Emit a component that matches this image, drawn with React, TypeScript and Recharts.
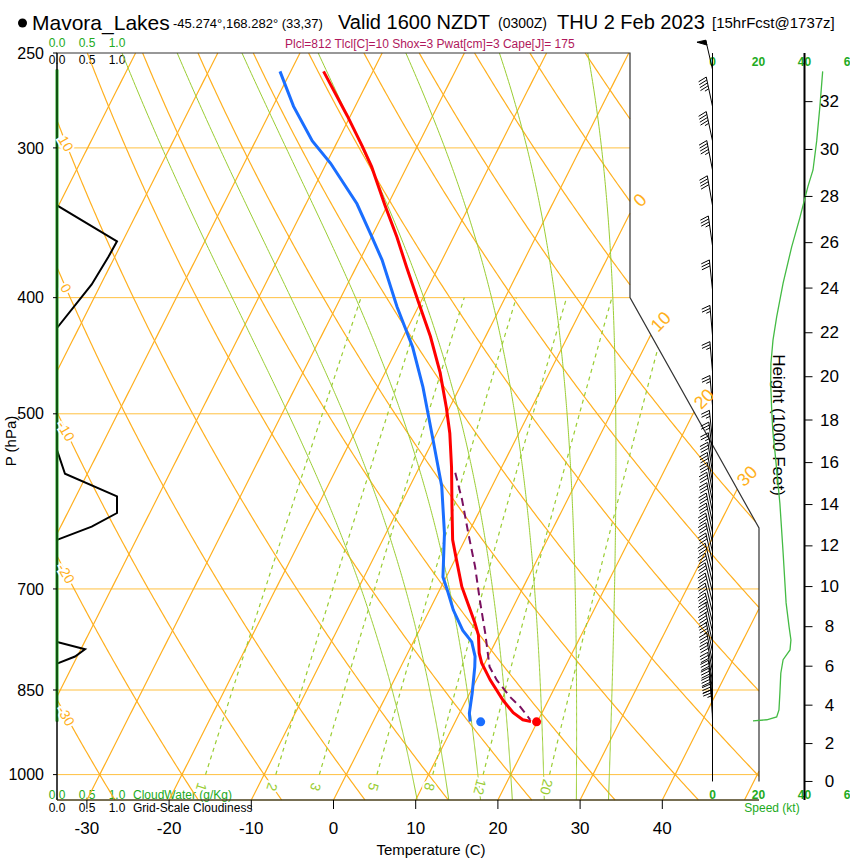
import React from 'react';
import { ComposedChart, Line, XAxis, YAxis, Scatter, ReferenceLine } from 'recharts';

const FONT = '"Liberation Sans", Arial, Helvetica, sans-serif';
const ORANGE = '#FFB020';
const PLEVEL = '#FFC040';
const YGREEN = '#9ACD32';
const GREEN = '#22AA22';
const CRIMSON = '#B0185C';

// ===== Sounding data =====
const tempP = [259, 282, 299, 311, 335, 356, 377, 404, 431, 462, 494, 519, 554, 598, 637, 662, 697, 715, 747, 765, 792, 807, 834, 867, 888, 900, 903];
const tempT = [-46.0, -40.4, -36.7, -34.3, -30.3, -26.9, -23.9, -20.2, -16.7, -13.3, -10.4, -8.4, -6.1, -3.6, -1.5, 0.2, 2.5, 3.9, 6.3, 7.5, 8.7, 9.6, 11.7, 14.5, 16.5, 18.1, 19.2];
const dewP = [259, 277, 296, 309, 334, 355, 372, 407, 440, 475, 526, 575, 629, 684, 701, 729, 758, 775, 797, 813, 855, 889, 903];
const dewT = [-51.3, -47.5, -43.1, -39.5, -33.8, -30.1, -27.3, -22.6, -18.2, -14.5, -10.0, -6.1, -2.9, -0.4, 0.9, 2.9, 5.3, 7.1, 8.4, 9.0, 10.3, 11.2, 11.8];
const parcelP = [560, 590, 629, 671, 715, 762, 813, 834, 861, 878, 900];
const parcelT = [-5.3, -2.8, 0.0, 2.9, 5.5, 8.2, 10.8, 12.5, 15.1, 17.0, 19.0];
const surfaceP = [903.6];
const surfaceT = [19.9];
const surfaceTd = [13.1];

const cloudP = [258, 335, 359, 370, 390, 424, 536, 561, 586, 605, 621, 637, 775, 786, 797, 808, 903];
const cloudFrac = [0, 0, 1.0, 0.855, 0.578, 0, 0, 0.133, 1.0, 1.0, 0.578, 0, 0, 0.467, 0.3, 0, 0];
const cloudWaterP = [258, 903];
const cloudWaterQ = [0, 0];

const speedP = [259, 277, 296, 313, 323, 343, 363, 389, 415, 434, 454, 471, 494, 516, 539, 594, 653, 719, 753, 772, 787, 802, 823, 855, 883, 895, 900, 902];
const speedKt = [47.9, 46.7, 45.3, 43.7, 41.5, 38.0, 34.4, 30.7, 27.9, 26.3, 25.4, 25.3, 25.7, 26.2, 27.2, 29.3, 30.7, 32.0, 33.3, 34.1, 33.7, 30.7, 29.7, 29.3, 28.9, 27.9, 23.6, 17.6];

const windP = [258, 277, 296, 313, 335, 362, 394, 430, 461, 492, 526, 538, 549, 559, 570, 581, 592, 604, 616, 628, 640, 652, 665, 678, 691, 704, 718, 732, 746, 760, 775, 790, 806, 821, 837, 850, 863, 877, 890, 900];
const windSpd = [48, 47, 45, 44, 40, 35, 31, 27, 25, 26, 26, 27, 27, 28, 28, 29, 29, 30, 30, 30, 31, 31, 31, 31, 32, 32, 32, 32, 33, 33, 34, 34, 31, 30, 29, 29, 29, 29, 28, 24];
const windDir = [347, 348, 348, 349, 350, 352, 354, 355, 355, 355, 354, 353, 352, 351, 350, 350, 349, 349, 348, 348, 347, 347, 347, 346, 346, 346, 346, 346, 346, 347, 347, 348, 349, 350, 351, 352, 353, 354, 356, 358];

// ===== Diagram furniture =====
const pressureTicks = [250, 300, 400, 500, 700, 850, 1000];
const pressureLines = [300, 400, 500, 700, 850, 1000];
const tempTicks = [-30, -20, -10, 0, 10, 20, 30, 40];
const isotherms = [-70, -60, -50, -40, -30, -20, -10, 0, 10, 20, 30, 40, 50];
const isothermLabels = [0, 10, 20, 30];
const dryAdiabats = [-30, -20, -10, 0, 10, 20, 30, 40, 50, 60, 70, 80, 90, 100, 110, 120, 130, 140, 150, 160];
const dryAdiabatLabels = [-30, -20, -10, 0, 10];
const moistAdiabats = [8, 12, 16, 20, 24, 28, 32];
const mixingRatios = [1, 2, 3, 5, 8, 12, 20];
const heightTicks = [0, 2, 4, 6, 8, 10, 12, 14, 16, 18, 20, 22, 24, 26, 28, 30, 32];
const speedTicks = [0, 20, 40, 60];
const speedTickText = ['0', '20', '40', '6'];
const cloudTicks = ['0.0', '0.5', '1.0'];
const cloudTickVals = [0, 0.5, 1.0];

// ===== Geometry of the skew-T =====
const SKEW = 32;
const P_REF = 1050;
const P_TOP = 250;
const PLOT_L = 57, PLOT_R = 848, PLOT_T = 53, PLOT_B = 800;
const X0_PX = 333.5, PX_PER_DEG = 8.22;
const X_MIN = (PLOT_L - X0_PX) / PX_PER_DEG;
const X_MAX = (PLOT_R - X0_PX) / PX_PER_DEG;
const SPD0_PX = 712.5, PX_PER_KT = 2.3;
const S_MIN = (PLOT_L - SPD0_PX) / PX_PER_KT;
const S_MAX = (PLOT_R - SPD0_PX) / PX_PER_KT;
const PX_PER_CLOUD = 60;
const C_MAX = (PLOT_R - PLOT_L) / PX_PER_CLOUD;
const XR1 = (630 - X0_PX) / PX_PER_DEG;
const XR2 = (759 - X0_PX) / PX_PER_DEG;
const P_CORNER = 400, P_DIAG = 622.6, P_SEA = 1013.25;
const LN_TOP = Math.log(P_TOP), LN_BOT = Math.log(P_REF);
const LN_PX = (PLOT_B - PLOT_T) / (LN_BOT - LN_TOP);
const LN_TO_X = LN_PX / PX_PER_DEG;

type Pt = { x: number; p: number };
const skewX = (t: number, p: number) => t + SKEW * Math.log(P_REF / p);

function xMaxAt(p: number) {
  if (p <= P_CORNER) return XR1;
  if (p >= P_DIAG) return XR2;
  const t = (Math.log(p) - Math.log(P_CORNER)) / (Math.log(P_DIAG) - Math.log(P_CORNER));
  return XR1 + (XR2 - XR1) * t;
}
function gIn(pt: Pt) {
  const lp = Math.log(pt.p);
  return Math.min(pt.x - X_MIN, xMaxAt(pt.p) - pt.x, (lp - LN_TOP) * LN_TO_X, (LN_BOT - lp) * LN_TO_X);
}
function lerpPt(a: Pt, b: Pt, t: number): Pt {
  const la = Math.log(a.p), lb = Math.log(b.p);
  return { x: a.x + (b.x - a.x) * t, p: Math.exp(la + (lb - la) * t) };
}
function clip(pts: Pt[]): Pt[][] {
  const segs: Pt[][] = [];
  let cur: Pt[] | null = null;
  for (let i = 0; i < pts.length; i++) {
    const a = pts[i];
    const ga = gIn(a);
    if (ga >= 0) {
      if (!cur) {
        cur = [];
        if (i > 0) {
          const b = pts[i - 1];
          const gb = gIn(b);
          cur.push(lerpPt(b, a, gb / (gb - ga)));
        }
      }
      cur.push(a);
    } else if (cur) {
      const b = pts[i - 1];
      const gb = gIn(b);
      cur.push(lerpPt(b, a, gb / (gb - ga)));
      if (cur.length > 1) segs.push(cur);
      cur = null;
    }
  }
  if (cur && cur.length > 1) segs.push(cur);
  return segs;
}
function samplePressures(p1: number, p2: number, n: number) {
  const out: number[] = [];
  for (let i = 0; i <= n; i++) out.push(Math.exp(Math.log(p1) + (Math.log(p2) - Math.log(p1)) * (i / n)));
  return out;
}
function solveP(f: (p: number) => number, lo: number, hi: number) {
  let a = Math.log(lo), b = Math.log(hi);
  const fa = f(lo);
  for (let i = 0; i < 60; i++) {
    const m = (a + b) / 2;
    const fm = f(Math.exp(m));
    if ((fm > 0) === (fa > 0)) a = m; else b = m;
  }
  return Math.exp((a + b) / 2);
}

// thermodynamics for reference lines
const KAPPA = 0.2857;
const RD = 287.04, CPD = 1005.7, LV = 2.501e6, EPS = 0.622;
const satVap = (tc: number) => 6.112 * Math.exp((17.67 * tc) / (tc + 243.5));
const dryT = (thetaC: number, p: number) => (thetaC + 273.15) * Math.pow(p / 1000, KAPPA) - 273.15;
const dryX = (thetaC: number, p: number) => skewX(dryT(thetaC, p), p);
function mixTd(w: number, p: number) {
  const e = (w * p) / (622 + w);
  const l = Math.log(e / 6.112);
  return (243.5 * l) / (17.67 - l);
}
const mixX = (w: number, p: number) => skewX(mixTd(w, p), p);
function moistDTdP(p: number, tk: number) {
  const es = satVap(tk - 273.15);
  const rs = (EPS * es) / (p - es);
  return (RD * tk + LV * rs) / (p * (CPD + (LV * LV * rs * EPS) / (RD * tk * tk)));
}
function moistCurve(thetaW: number): Pt[] {
  const step = 2;
  const integrate = (dir: number, pEnd: number) => {
    const out: { p: number; t: number }[] = [];
    let t = thetaW + 273.15;
    let p = 1000;
    while ((dir < 0 && p > pEnd) || (dir > 0 && p < pEnd)) {
      const h = dir * step;
      const k1 = moistDTdP(p, t);
      const k2 = moistDTdP(p + h / 2, t + (h / 2) * k1);
      const k3 = moistDTdP(p + h / 2, t + (h / 2) * k2);
      const k4 = moistDTdP(p + h, t + h * k3);
      t += (h / 6) * (k1 + 2 * k2 + 2 * k3 + k4);
      p += h;
      out.push({ p, t });
    }
    return out;
  };
  const down = integrate(1, P_REF).reverse();
  const up = integrate(-1, P_TOP);
  const all = [...down, { p: 1000, t: thetaW + 273.15 }, ...up];
  return all.map((d) => ({ p: d.p, x: skewX(d.t - 273.15, d.p) }));
}
const stdPressure = (kft: number) => 1013.25 * Math.pow(1 - 6.8756e-6 * kft * 1000, 5.2559);

// ===== Built series =====
const isothermSegs = isotherms.flatMap((t) => clip(samplePressures(P_REF, P_TOP, 200).map((p) => ({ p, x: skewX(t, p) }))));
const drySegs = dryAdiabats.flatMap((th) => clip(samplePressures(P_REF, P_TOP, 240).map((p) => ({ p, x: dryX(th, p) }))));
const moistSegs = moistAdiabats.flatMap((tw) => clip(moistCurve(tw)));
const mixSegs = mixingRatios.flatMap((w) => clip(samplePressures(1000, 400, 80).map((p) => ({ p, x: mixX(w, p) }))));
const plevelSegs = pressureLines.map((p) => [{ p, x: X_MIN }, { p, x: xMaxAt(p) }]);
const frame = [
  { x: X_MIN, p: P_REF }, { x: X_MIN, p: P_TOP }, { x: XR1, p: P_TOP }, { x: XR1, p: P_CORNER },
  { x: XR2, p: P_DIAG }, { x: XR2, p: P_SEA },
];
const frameBottom = [{ x: X_MIN, p: P_REF }, { x: XR2, p: P_REF }];

const tempLine = tempP.map((p, i) => ({ p, x: skewX(tempT[i], p) }));
const dewLine = dewP.map((p, i) => ({ p, x: skewX(dewT[i], p) }));
const parcelLine = parcelP.map((p, i) => ({ p, x: skewX(parcelT[i], p) }));
const tDot = surfaceP.map((p, i) => ({ p, x: skewX(surfaceT[i], p) }));
const tdDot = surfaceP.map((p, i) => ({ p, x: skewX(surfaceTd[i], p) }));
const cloudLine = cloudP.map((p, i) => ({ p, x: cloudFrac[i] }));
const cloudWaterLine = cloudWaterP.map((p, i) => ({ p, x: cloudWaterQ[i] }));
const speedLine = speedP.map((p, i) => ({ p, x: speedKt[i] }));
const barbs = windP.map((p, i) => ({ p, x: 0, spd: windSpd[i], dir: windDir[i] }));
const zeroSpeedAxis = [{ p: P_TOP, x: 0 }, { p: P_SEA, x: 0 }];
const heightData = heightTicks.map((h) => ({ x: 40, p: stdPressure(h), label: String(h) }));

const isoLabelData = isothermLabels.map((t) => {
  const p = solveP((pp) => xMaxAt(pp) - skewX(t, pp), P_TOP, P_REF);
  return { p, x: skewX(t, p), label: String(t) };
});
const dryLabelData = dryAdiabatLabels.map((th) => {
  const p = solveP((pp) => dryX(th, pp) - (X_MIN + 1.1), P_TOP, P_REF);
  return { p, x: dryX(th, p), label: String(th) };
});
const MIX_LABEL_P = 1024;
const mixLabelData = mixingRatios.map((w) => {
  const dx = (mixX(w, 1000) - mixX(w, 900)) * PX_PER_DEG;
  const dy = LN_PX * Math.log(1000 / 900);
  return { p: MIX_LABEL_P, x: mixX(w, MIX_LABEL_P), label: String(w), angle: (Math.atan2(dy, dx) * 180) / Math.PI };
});

// ===== Shapes =====
function BarbShape(props: any) {
  const { cx, cy, payload } = props;
  if (cx == null || cy == null) return null;
  const a = (payload.dir * Math.PI) / 180;
  const ux = Math.sin(a), uy = -Math.cos(a);
  const nx = uy, ny = -ux;
  const fx = 0.94 * nx - 0.34 * ux, fy = 0.94 * ny - 0.34 * uy;
  const L = 30, FL = 9, GAP = 3;
  const tx = cx + ux * L, ty = cy + uy * L;
  let rem = Math.round(payload.spd / 5) * 5;
  const parts: any[] = [<line key="s" x1={cx} y1={cy} x2={tx} y2={ty} />];
  let pos = 0, k = 0;
  while (rem >= 50) {
    const ax = tx - ux * pos, ay = ty - uy * pos;
    const bx = ax - ux * 5, by = ay - uy * 5;
    parts.push(<polygon key={'pn' + k++} points={`${ax},${ay} ${ax + nx * FL},${ay + ny * FL} ${bx},${by}`} fill="#000" />);
    pos += 6; rem -= 50;
  }
  while (rem >= 10) {
    const ax = tx - ux * pos, ay = ty - uy * pos;
    parts.push(<line key={'f' + k++} x1={ax} y1={ay} x2={ax + fx * FL} y2={ay + fy * FL} />);
    pos += GAP; rem -= 10;
  }
  if (rem >= 5) {
    if (pos === 0) pos = GAP;
    const ax = tx - ux * pos, ay = ty - uy * pos;
    parts.push(<line key={'h' + k++} x1={ax} y1={ay} x2={ax + fx * FL * 0.5} y2={ay + fy * FL * 0.5} />);
  }
  return <g stroke="#000" strokeWidth={1} fill="none">{parts}</g>;
}
function haloText(x: number, y: number, angle: number, size: number, color: string, label: string) {
  const tr = `rotate(${angle} ${x} ${y})`;
  return (
    <g>
      <text x={x} y={y} transform={tr} textAnchor="middle" dominantBaseline="central" fontSize={size} fill="#fff" stroke="#fff" strokeWidth={4}>{label}</text>
      <text x={x} y={y} transform={tr} textAnchor="middle" dominantBaseline="central" fontSize={size} fill={color}>{label}</text>
    </g>
  );
}
function IsoLabel(props: any) {
  const { cx, cy, payload } = props;
  const x = cx + 10, y = cy - 13;
  return <text x={x} y={y} transform={`rotate(-45 ${x} ${y})`} textAnchor="middle" dominantBaseline="central" fontSize={18} fill={ORANGE}>{payload.label}</text>;
}
function DryLabel(props: any) {
  const { cx, cy, payload } = props;
  return haloText(cx, cy, 60, 14, ORANGE, payload.label);
}
function MixLabel(props: any) {
  const { cx, cy, payload } = props;
  return haloText(cx, cy, payload.angle, 14, YGREEN, payload.label);
}
function HeightTick(props: any) {
  const { cx, cy, payload } = props;
  return (
    <g>
      <line x1={cx} y1={cy} x2={cx + 8} y2={cy} stroke="#000" strokeWidth={1} />
      <text x={cx + 25} y={cy} textAnchor="middle" dominantBaseline="central" fontSize={17} fill="#000">{payload.label}</text>
    </g>
  );
}
const dotShape = (color: string) => (props: any) => <circle cx={props.cx} cy={props.cy} r={4.5} fill={color} />;

const bgLine = (data: Pt[], key: string, color: string, width: number, dash?: string, axis?: string) => (
  <Line key={key} data={data} dataKey="p" xAxisId={axis ?? 0} type="linear" stroke={color} strokeWidth={width}
    strokeDasharray={dash} dot={false} activeDot={false} isAnimationActive={false} />
);

export default function App() {
  return (
    <div style={{ position: 'absolute', left: 0, top: 0, width: 850, height: 860, fontFamily: FONT, background: '#fff' }}>
      <ComposedChart width={850} height={860} margin={{ top: 53, right: 2, bottom: 0, left: 0 }}>
        <XAxis type="number" dataKey="x" domain={[X_MIN, X_MAX]} ticks={tempTicks} interval={0} height={60}
          tickSize={9} tickMargin={13} axisLine={false} tickLine={{ stroke: '#000' }} tick={{ fontSize: 17, fill: '#000' }} />
        <XAxis xAxisId="s" type="number" dataKey="x" domain={[S_MIN, S_MAX]} hide />
        <XAxis xAxisId="c" type="number" dataKey="x" domain={[0, C_MAX]} hide />
        <YAxis type="number" dataKey="p" scale="log" domain={[P_TOP, P_REF]} reversed ticks={pressureTicks} interval={0}
          width={57} tickSize={4} tickMargin={9} axisLine={{ stroke: '#000' }} tickLine={{ stroke: '#000' }} tick={{ fontSize: 16, fill: '#000' }} />

        {plevelSegs.map((s, i) => bgLine(s, 'pl' + i, PLEVEL, 1))}
        {isothermSegs.map((s, i) => bgLine(s, 'it' + i, ORANGE, 1.2))}
        {drySegs.map((s, i) => bgLine(s, 'da' + i, ORANGE, 1.2))}
        {moistSegs.map((s, i) => bgLine(s, 'ma' + i, YGREEN, 1))}
        {mixSegs.map((s, i) => bgLine(s, 'mr' + i, YGREEN, 1.2, '4 4'))}

        {bgLine(frame, 'frame', '#333', 1.2)}
        {bgLine(frameBottom, 'frameB', '#4a3f1a', 1.5)}
        {bgLine(zeroSpeedAxis, 'zs', '#000', 1, undefined, 's')}
        <ReferenceLine x={40} xAxisId="s" stroke="#000" strokeWidth={2} />

        {bgLine(cloudLine, 'cloud', '#000', 2, undefined, 'c')}
        {bgLine(cloudWaterLine, 'cw', GREEN, 3, undefined, 'c')}
        {bgLine(speedLine, 'spd', '#44BB44', 1.3, undefined, 's')}

        {bgLine(dewLine, 'dew', '#1A6EFF', 3)}
        {bgLine(tempLine, 'temp', '#FF0000', 3)}
        {bgLine(parcelLine, 'parcel', '#7A1060', 2, '8 5')}

        <Scatter data={barbs} xAxisId="s" shape={BarbShape} isAnimationActive={false} />
        <Scatter data={heightData} xAxisId="s" shape={HeightTick} isAnimationActive={false} />
        <Scatter data={isoLabelData} shape={IsoLabel} isAnimationActive={false} />
        <Scatter data={dryLabelData} shape={DryLabel} isAnimationActive={false} />
        <Scatter data={mixLabelData} shape={MixLabel} isAnimationActive={false} />
        <Scatter data={tDot} shape={dotShape('#FF0000')} isAnimationActive={false} />
        <Scatter data={tdDot} shape={dotShape('#1A6EFF')} isAnimationActive={false} />

        {/* titles & annotation text */}
        <circle cx={22.5} cy={23} r={4.5} fill="#000" />
        <text x={32} y={30} fontSize={21} fill="#000">Mavora_Lakes</text>
        <text x={173} y={28} fontSize={13} fill="#000">-45.274°,168.282° (33,37)</text>
        <text x={338} y={29} fontSize={20} fill="#000">Valid 1600 NZDT</text>
        <text x={498} y={28} fontSize={14} fill="#000">(0300Z)</text>
        <text x={557} y={29} fontSize={20} fill="#000">THU 2 Feb 2023</text>
        <text x={712} y={28} fontSize={15} fill="#000">[15hrFcst@1737z]</text>
        <text x={285} y={48} fontSize={12} fill={CRIMSON}>Plcl=812 Tlcl[C]=10 Shox=3 Pwat[cm]=3 Cape[J]= 175</text>

        {cloudTickVals.map((v, i) => (
          <g key={'ct' + i}>
            <text x={PLOT_L + v * PX_PER_CLOUD} y={47} fontSize={12} textAnchor="middle" fill={GREEN}>{cloudTicks[i]}</text>
            <text x={PLOT_L + v * PX_PER_CLOUD} y={64} fontSize={12} textAnchor="middle" fill="#000">{cloudTicks[i]}</text>
            <text x={PLOT_L + v * PX_PER_CLOUD} y={799} fontSize={12} textAnchor="middle" fill={GREEN}>{cloudTicks[i]}</text>
            <text x={PLOT_L + v * PX_PER_CLOUD} y={812} fontSize={12} textAnchor="middle" fill="#000">{cloudTicks[i]}</text>
          </g>
        ))}
        <text x={133} y={799} fontSize={12} fill={GREEN}>CloudWater (g/Kg)</text>
        <text x={133} y={812} fontSize={12} fill="#000">Grid-Scale Cloudiness</text>

        {speedTicks.map((s, i) => (
          <g key={'st' + s}>
            <text x={SPD0_PX + s * PX_PER_KT} y={66} fontSize={12} fontWeight="bold" textAnchor={i === 3 ? 'end' : 'middle'} fill={GREEN}>{speedTickText[i]}</text>
            <text x={SPD0_PX + s * PX_PER_KT} y={799} fontSize={12} fontWeight="bold" textAnchor={i === 3 ? 'end' : 'middle'} fill={GREEN}>{speedTickText[i]}</text>
          </g>
        ))}
        <text x={772} y={812} fontSize={12} textAnchor="middle" fill={GREEN}>Speed (kt)</text>

        <text x={431} y={855} fontSize={15} textAnchor="middle" fill="#000">Temperature (C)</text>
        <text x={16} y={441} fontSize={15} textAnchor="middle" fill="#000" transform="rotate(-90 16 441)">P (hPa)</text>
        <text x={773} y={425} fontSize={17} textAnchor="middle" fill="#000" transform="rotate(90 773 425)">Height (1000 Feet)</text>
      </ComposedChart>
    </div>
  );
}
